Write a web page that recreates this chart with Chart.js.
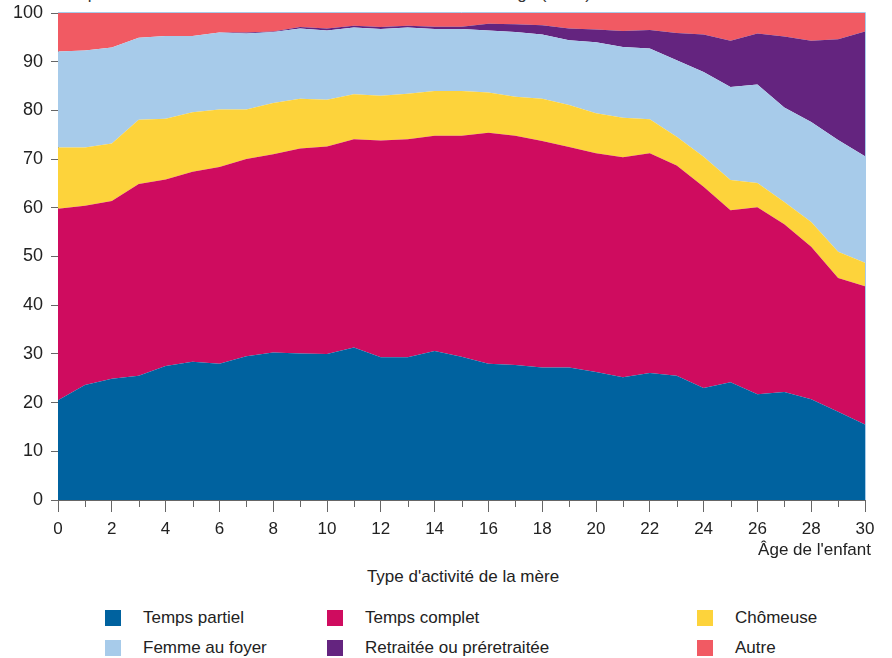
<!DOCTYPE html>
<html lang="fr">
<head>
<meta charset="utf-8">
<title>Type d'activité de la mère</title>
<script src="https://cdn.jsdelivr.net/npm/chart.js@4/dist/chart.umd.min.js"></script>
<style>
    body { margin: 0; background: #fff; font-family: "Liberation Sans", Arial, sans-serif; color: #222; }
    #page { position: relative; width: 892px; height: 658px; overflow: hidden; }
    #top-title { position: absolute; left: 66px; top: -15px; font-size: 17px; line-height: 17px; white-space: nowrap; color: #333; }
    #chart-box { position: absolute; left: 0; top: 0; width: 892px; height: 545px; }
    #age-title { position: absolute; right: 21px; top: 540px; font-size: 17px; line-height: 20px; }
    #type-title { position: absolute; left: 0; width: 926px; top: 567px; text-align: center; font-size: 17px; line-height: 20px; }
    .leg { position: absolute; font-size: 17px; line-height: 20px; }
    .leg span { position: absolute; left: -38px; top: 2px; width: 16px; height: 16px; }
</style>
</head>
<body>
<div id="page">
    <div id="top-title">Répartition des enfants selon l'activité de leur mère et leur âge (en %)</div>
    <div id="chart-box"><canvas id="area-chart"></canvas></div>
    <div id="age-title">Âge de l'enfant</div>
    <div id="type-title">Type d'activité de la mère</div>
    <div id="legend"></div>
</div>
<script>
    "use strict";

    // Data
    var ages = [0, 1, 2, 3, 4, 5, 6, 7, 8, 9, 10, 11, 12, 13, 14, 15, 16, 17, 18, 19, 20, 21, 22, 23, 24, 25, 26, 27, 28, 29, 30];
    var tempsPartiel = [20.5, 23.6, 24.9, 25.5, 27.5, 28.4, 28.0, 29.5, 30.3, 30.1, 30.0, 31.3, 29.3, 29.3, 30.6, 29.4, 28.0, 27.7, 27.2, 27.2, 26.3, 25.2, 26.1, 25.5, 23.0, 24.2, 21.7, 22.2, 20.7, 18.1, 15.5];
    var tempsComplet = [39.3, 36.8, 36.5, 39.4, 38.3, 39.0, 40.4, 40.5, 40.7, 42.1, 42.6, 42.8, 44.5, 44.8, 44.2, 45.4, 47.4, 47.1, 46.5, 45.3, 44.9, 45.2, 45.1, 43.2, 41.3, 35.3, 38.4, 34.4, 31.3, 27.5, 28.4];
    var chomeuse = [12.6, 12.0, 11.8, 13.2, 12.5, 12.2, 11.8, 10.2, 10.5, 10.2, 9.6, 9.2, 9.2, 9.3, 9.2, 9.2, 8.3, 8.0, 8.7, 8.6, 8.2, 8.1, 7.0, 5.9, 6.2, 6.2, 5.0, 4.6, 5.1, 5.4, 4.8];
    var femmeFoyer = [19.7, 19.9, 19.7, 16.8, 17.0, 15.7, 15.8, 15.6, 14.6, 14.4, 14.2, 13.7, 13.7, 13.6, 12.7, 12.7, 12.7, 13.3, 13.2, 13.3, 14.6, 14.5, 14.5, 15.7, 17.4, 19.1, 20.2, 19.4, 20.5, 22.9, 21.9];
    var retraitee = [0, 0, 0, 0, 0, 0, 0, 0.2, 0.1, 0.3, 0.4, 0.4, 0.4, 0.4, 0.5, 0.5, 1.4, 1.6, 1.9, 2.4, 2.6, 3.3, 3.8, 5.6, 7.7, 9.5, 10.5, 14.6, 16.7, 20.7, 25.6];
    var autre = [7.9, 7.7, 7.1, 5.1, 4.7, 4.7, 4.0, 4.0, 3.8, 2.9, 3.2, 2.6, 2.9, 2.6, 2.8, 2.8, 2.2, 2.3, 2.5, 3.2, 3.4, 3.7, 3.5, 4.1, 4.4, 5.7, 4.2, 4.8, 5.7, 5.4, 3.8];

    var seriesNames = ["Temps partiel", "Temps complet", "Chômeuse", "Femme au foyer", "Retraitée ou préretraitée", "Autre"];
    var seriesValues = [tempsPartiel, tempsComplet, chomeuse, femmeFoyer, retraitee, autre];
    var seriesColors = ["#00629f", "#cf0c5f", "#fdd33b", "#a7cbea", "#64247f", "#f15a63"];

    var yTicks = [0, 10, 20, 30, 40, 50, 60, 70, 80, 90, 100];
    var xTicks = [0, 2, 4, 6, 8, 10, 12, 14, 16, 18, 20, 22, 24, 26, 28, 30];


    // Datasets
    var datasets = seriesNames.map(function (name, i) {
        return {
            label: name,
            data: ages.map(function (a, j) { return {x: a, y: seriesValues[i][j]}; }),
            backgroundColor: seriesColors[i],
            borderColor: seriesColors[i],
            borderWidth: 0,
            pointRadius: 0,
            tension: 0,
            fill: i === 0 ? "origin" : "-1"
        };
    });


    // Frame + minor ticks
    var framePlugin = {
        id: "frame",
        afterDraw: function (chart) {
            var a = chart.chartArea, c = chart.ctx, x = chart.scales.x;
            c.save();
            c.strokeStyle = "#a7cbea";
            c.lineWidth = 1;
            c.beginPath();
            c.moveTo(a.left, a.top - 0.5);
            c.lineTo(a.right + 0.5, a.top - 0.5);
            c.lineTo(a.right + 0.5, a.bottom);
            c.stroke();
            c.strokeStyle = "#666";
            c.beginPath();
            for (var v = 1; v < 30; v += 2) {
                var px = Math.round(x.getPixelForValue(v)) + 0.5;
                c.moveTo(px, a.bottom);
                c.lineTo(px, a.bottom + 7);
            }
            c.stroke();
            c.restore();
        }
    };


    // Chart
    var ctx = document.getElementById("area-chart").getContext("2d");
    var myChart = new Chart(ctx, {
        type: "line",
        data: { datasets: datasets },
        options: {
            responsive: true,
            maintainAspectRatio: false,
            animation: false,
            layout: { padding: { top: 13, right: 27, left: 0, bottom: 0 } },
            plugins: {
                legend: { display: false },
                tooltip: { enabled: false }
            },
            scales: {
                x: {
                    type: "linear",
                    min: 0,
                    max: 30,
                    afterBuildTicks: function (scale) {
                        scale.ticks = xTicks.map(function (v) { return {value: v}; });
                    },
                    afterFit: function (scale) {
                        scale.height = 45;
                        scale.paddingLeft = 0;
                        scale.paddingRight = 0;
                    },
                    ticks: { autoSkip: false, maxRotation: 0, padding: 7, color: "#222", font: { family: "Liberation Sans", size: 17 } },
                    grid: { drawOnChartArea: false, tickLength: 12, color: "#666" },
                    border: { display: true, color: "#666" }
                },
                y: {
                    stacked: true,
                    min: 0,
                    max: 100,
                    afterBuildTicks: function (scale) {
                        scale.ticks = yTicks.map(function (v) { return {value: v}; });
                    },
                    afterFit: function (scale) {
                        scale.width = 58;
                        scale.paddingTop = 0;
                        scale.paddingBottom = 0;
                    },
                    ticks: { padding: 8, color: "#222", font: { family: "Liberation Sans", size: 18 } },
                    grid: { drawOnChartArea: false, tickLength: 7, color: "#666" },
                    border: { display: true, color: "#666" }
                }
            }
        },
        plugins: [framePlugin]
    });


    // Legend
    var legendPos = [[143, 608], [365, 608], [735, 608], [143, 638], [365, 638], [735, 638]];
    var legend = document.getElementById("legend");
    seriesNames.forEach(function (name, i) {
        var d = document.createElement("div");
        d.className = "leg";
        d.style.left = legendPos[i][0] + "px";
        d.style.top = legendPos[i][1] + "px";
        var sw = document.createElement("span");
        sw.style.background = seriesColors[i];
        d.appendChild(sw);
        d.appendChild(document.createTextNode(name));
        legend.appendChild(d);
    });
</script>
</body>
</html>
